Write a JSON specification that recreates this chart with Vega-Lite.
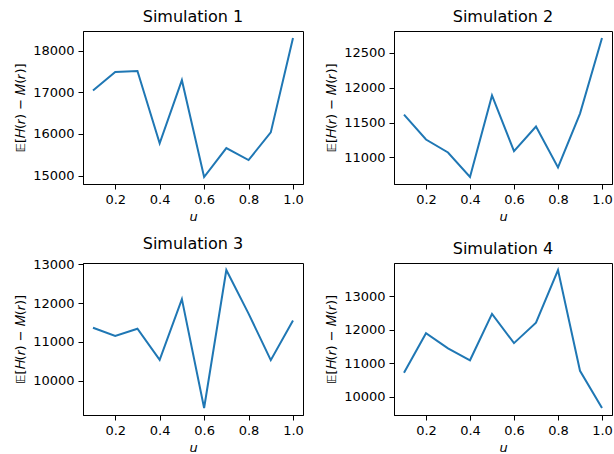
{
  "$schema": "https://vega.github.io/schema/vega-lite/v6.json",
  "padding": {"left": 14, "top": 8, "right": 3, "bottom": 5},
  "background": "white",
  "data": {"values": [
    {"sim": "Simulation 1", "u": 0.1, "v": 17042},
    {"sim": "Simulation 1", "u": 0.2, "v": 17489},
    {"sim": "Simulation 1", "u": 0.3, "v": 17513},
    {"sim": "Simulation 1", "u": 0.4, "v": 15773},
    {"sim": "Simulation 1", "u": 0.5, "v": 17290},
    {"sim": "Simulation 1", "u": 0.6, "v": 14967},
    {"sim": "Simulation 1", "u": 0.7, "v": 15662},
    {"sim": "Simulation 1", "u": 0.8, "v": 15374},
    {"sim": "Simulation 1", "u": 0.9, "v": 16037},
    {"sim": "Simulation 1", "u": 1.0, "v": 18303},
    {"sim": "Simulation 2", "u": 0.1, "v": 11614},
    {"sim": "Simulation 2", "u": 0.2, "v": 11257},
    {"sim": "Simulation 2", "u": 0.3, "v": 11071},
    {"sim": "Simulation 2", "u": 0.4, "v": 10719},
    {"sim": "Simulation 2", "u": 0.5, "v": 11890},
    {"sim": "Simulation 2", "u": 0.6, "v": 11090},
    {"sim": "Simulation 2", "u": 0.7, "v": 11443},
    {"sim": "Simulation 2", "u": 0.8, "v": 10857},
    {"sim": "Simulation 2", "u": 0.9, "v": 11629},
    {"sim": "Simulation 2", "u": 1.0, "v": 12714},
    {"sim": "Simulation 3", "u": 0.1, "v": 11363},
    {"sim": "Simulation 3", "u": 0.2, "v": 11150},
    {"sim": "Simulation 3", "u": 0.3, "v": 11338},
    {"sim": "Simulation 3", "u": 0.4, "v": 10536},
    {"sim": "Simulation 3", "u": 0.5, "v": 12105},
    {"sim": "Simulation 3", "u": 0.6, "v": 9292},
    {"sim": "Simulation 3", "u": 0.7, "v": 12855},
    {"sim": "Simulation 3", "u": 0.8, "v": 11730},
    {"sim": "Simulation 3", "u": 0.9, "v": 10528},
    {"sim": "Simulation 3", "u": 1.0, "v": 11551},
    {"sim": "Simulation 4", "u": 0.1, "v": 10719},
    {"sim": "Simulation 4", "u": 0.2, "v": 11899},
    {"sim": "Simulation 4", "u": 0.3, "v": 11446},
    {"sim": "Simulation 4", "u": 0.4, "v": 11092},
    {"sim": "Simulation 4", "u": 0.5, "v": 12479},
    {"sim": "Simulation 4", "u": 0.6, "v": 11604},
    {"sim": "Simulation 4", "u": 0.7, "v": 12213},
    {"sim": "Simulation 4", "u": 0.8, "v": 13787},
    {"sim": "Simulation 4", "u": 0.9, "v": 10778},
    {"sim": "Simulation 4", "u": 1.0, "v": 9667}
  ]},
  "columns": 2,
  "bounds": "flush",
  "spacing": {"row": 79, "column": 91},
  "resolve": {"scale": {"x": "independent", "y": "independent"}, "axis": {"x": "independent", "y": "independent"}},
  "concat": [
    {"title": "Simulation 1", "width": 220, "height": 153, "transform": [{"filter": "datum.sim === 'Simulation 1'"}], "mark": {"type": "line", "color": "#1f77b4", "strokeWidth": 2}, "encoding": {"x": {"field": "u", "type": "quantitative", "title": "u", "scale": {"zero": false, "nice": false, "padding": 10}, "axis": {"format": ".1f", "values": [0.2, 0.4, 0.6, 0.8, 1.0]}}, "y": {"field": "v", "type": "quantitative", "title": "𝔼[𝐻(𝑟) − 𝑀(𝑟)]", "scale": {"zero": false, "nice": false, "padding": 7}, "axis": {"format": "d", "values": [15000, 16000, 17000, 18000]}}}},
    {"title": "Simulation 2", "width": 218, "height": 153, "transform": [{"filter": "datum.sim === 'Simulation 2'"}], "mark": {"type": "line", "color": "#1f77b4", "strokeWidth": 2}, "encoding": {"x": {"field": "u", "type": "quantitative", "title": "u", "scale": {"zero": false, "nice": false, "padding": 10}, "axis": {"format": ".1f", "values": [0.2, 0.4, 0.6, 0.8, 1.0]}}, "y": {"field": "v", "type": "quantitative", "title": "𝔼[𝐻(𝑟) − 𝑀(𝑟)]", "scale": {"zero": false, "nice": false, "padding": 7}, "axis": {"format": "d", "values": [11000, 11500, 12000, 12500]}}}},
    {"title": "Simulation 3", "width": 220, "height": 152, "transform": [{"filter": "datum.sim === 'Simulation 3'"}], "mark": {"type": "line", "color": "#1f77b4", "strokeWidth": 2}, "encoding": {"x": {"field": "u", "type": "quantitative", "title": "u", "scale": {"zero": false, "nice": false, "padding": 10}, "axis": {"format": ".1f", "values": [0.2, 0.4, 0.6, 0.8, 1.0]}}, "y": {"field": "v", "type": "quantitative", "title": "𝔼[𝐻(𝑟) − 𝑀(𝑟)]", "scale": {"zero": false, "nice": false, "padding": 7}, "axis": {"format": "d", "values": [10000, 11000, 12000, 13000]}}}},
    {"title": "Simulation 4", "width": 218, "height": 152, "transform": [{"filter": "datum.sim === 'Simulation 4'"}], "mark": {"type": "line", "color": "#1f77b4", "strokeWidth": 2}, "encoding": {"x": {"field": "u", "type": "quantitative", "title": "u", "scale": {"zero": false, "nice": false, "padding": 10}, "axis": {"format": ".1f", "values": [0.2, 0.4, 0.6, 0.8, 1.0]}}, "y": {"field": "v", "type": "quantitative", "title": "𝔼[𝐻(𝑟) − 𝑀(𝑟)]", "scale": {"zero": false, "nice": false, "padding": 7}, "axis": {"format": "d", "values": [10000, 11000, 12000, 13000]}}}}
  ],
  "config": {
    "font": "DejaVu Sans",
    "view": {"stroke": "black", "strokeWidth": 1},
    "title": {"fontSize": 16, "fontWeight": "normal", "color": "black", "offset": 6, "font": "DejaVu Sans"},
    "axis": {"grid": false, "domainColor": "black", "domainWidth": 1, "tickColor": "black", "tickSize": 5, "tickWidth": 1, "labelFontSize": 13, "labelColor": "black", "labelPadding": 4, "titleFontSize": 13, "titleFontWeight": "normal", "titleColor": "black", "labelFont": "DejaVu Sans", "titleFont": "DejaVu Sans"},
    "axisX": {"titleFontStyle": "italic", "titlePadding": 4, "labelFlush": false},
    "axisY": {"titlePadding": 5}
  }
}
